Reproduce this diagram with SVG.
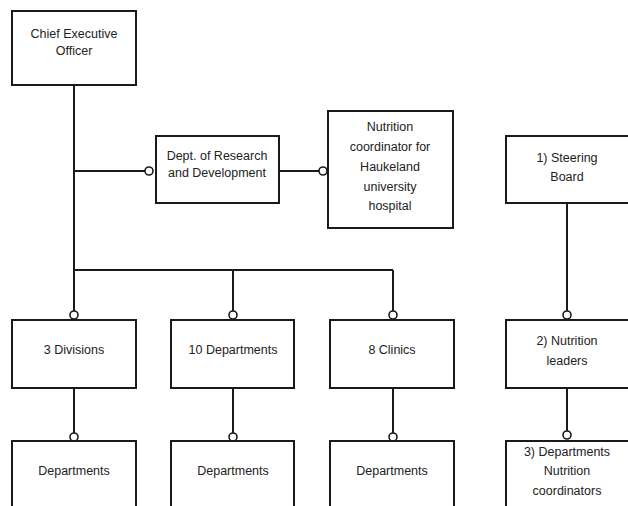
<svg xmlns="http://www.w3.org/2000/svg" width="628" height="506" viewBox="0 0 628 506">
<style>
.box{fill:#fff;stroke:#1a1a1a;stroke-width:2}
.ln{fill:none;stroke:#1a1a1a;stroke-width:2}
.dot{fill:#fff;stroke:#1a1a1a;stroke-width:1.6}
text{font-family:"Liberation Sans","DejaVu Sans",sans-serif;font-size:12.5px;fill:#222;text-anchor:middle;dominant-baseline:middle}
</style>
<rect width="628" height="506" fill="#fff"/>
<g id="connectors">
<path class="ln" d="M74 85V270M74 270H393M74 270V311M233 270V311M393 270V311M74 171H145M279 171H319M74 388V433M233 388V433M393 388V433M567 203V311M567 388V431"/>
<circle class="dot" cx="149" cy="171" r="4"/>
<circle class="dot" cx="323" cy="171" r="4"/>
<circle class="dot" cx="74" cy="315" r="4"/>
<circle class="dot" cx="233" cy="315" r="4"/>
<circle class="dot" cx="393" cy="315" r="4"/>
<circle class="dot" cx="74" cy="437" r="4"/>
<circle class="dot" cx="233" cy="437" r="4"/>
<circle class="dot" cx="393" cy="437" r="4"/>
<circle class="dot" cx="567" cy="315" r="4"/>
<circle class="dot" cx="567" cy="435" r="4"/>
</g>
<g id="ceo"><rect class="box" x="12" y="11" width="124" height="74"/><text x="74" y="35">Chief Executive</text><text x="74" y="52">Officer</text></g>
<g id="rnd"><rect class="box" x="156" y="136" width="123" height="67"/><text x="217" y="157">Dept. of Research</text><text x="217" y="174">and Development</text></g>
<g id="nutcoord"><rect class="box" x="328" y="111" width="125" height="117"/><text x="390" y="128">Nutrition</text><text x="390" y="148">coordinator for</text><text x="390" y="168">Haukeland</text><text x="390" y="188">university</text><text x="390" y="207">hospital</text></g>
<g id="divisions"><rect class="box" x="12" y="320" width="124" height="68"/><text x="74" y="351">3 Divisions</text></g>
<g id="departments10"><rect class="box" x="171" y="320" width="123" height="68"/><text x="233" y="351">10 Departments</text></g>
<g id="clinics"><rect class="box" x="330" y="320" width="124" height="68"/><text x="392" y="351">8 Clinics</text></g>
<g id="dept1"><rect class="box" x="12" y="441" width="124" height="80"/><text x="74" y="472">Departments</text></g>
<g id="dept2"><rect class="box" x="171" y="441" width="123" height="80"/><text x="233" y="472">Departments</text></g>
<g id="dept3"><rect class="box" x="330" y="441" width="124" height="80"/><text x="392" y="472">Departments</text></g>
<g id="steering"><rect class="box" x="506" y="136" width="124" height="67"/><text x="567" y="159">1) Steering</text><text x="567" y="178">Board</text></g>
<g id="leaders"><rect class="box" x="506" y="320" width="124" height="68"/><text x="567" y="342">2) Nutrition</text><text x="567" y="362">leaders</text></g>
<g id="deptcoord"><rect class="box" x="506" y="441" width="124" height="80"/><text x="567" y="453">3) Departments</text><text x="567" y="472">Nutrition</text><text x="567" y="492">coordinators</text></g>
</svg>
